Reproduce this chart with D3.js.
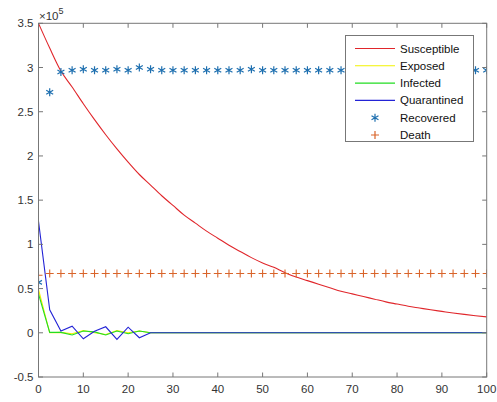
<!DOCTYPE html>
<html>
<head>
<meta charset="utf-8">
<script src="https://cdn.jsdelivr.net/npm/d3@7"></script>
<style>
  body { margin: 0; background: #fff; }
  text { font-family: "Liberation Sans", Arial, sans-serif; }
</style>
</head>
<body>
<svg id="chart" width="497" height="402"></svg>
<script>
// time steps (days), 2.5 apart
var days = d3.range(0, 100.01, 2.5);

// values in units of 1e5
var susceptible = [3.50, 3.22, 2.96, 2.78, 2.59, 2.41, 2.24, 2.08, 1.93, 1.79, 1.67, 1.55, 1.44, 1.33, 1.24, 1.15,
    1.07, 0.99, 0.92, 0.85, 0.79, 0.74, 0.68, 0.63, 0.59, 0.55, 0.51, 0.47, 0.44, 0.41, 0.38, 0.35,
    0.325, 0.30, 0.28, 0.26, 0.242, 0.224, 0.208, 0.193, 0.18];
var exposed = [0.49, 0.0, 0.005, -0.01, 0.025, 0.0, -0.02, 0.025, 0.0, 0.02, 0.0];
var infected = [0.44, 0.005, 0.005, -0.025, 0.02, 0.01, -0.025, 0.02, -0.01, 0.02, 0.0];
var quarantined = [1.26, 0.26, 0.02, 0.075, -0.068, 0.018, 0.068, -0.075, 0.063, -0.056, 0.0];
var recovered = [0.57, 2.72, 2.95, 2.97, 2.98, 2.97, 2.97, 2.98, 2.97, 3.0, 2.98, 2.97, 2.97, 2.97, 2.97, 2.97,
    2.97, 2.97, 2.97, 2.98, 2.97, 2.97, 2.97, 2.97, 2.97, 2.97, 2.97, 2.97, 2.97, 2.97, 2.97, 2.97,
    2.97, 2.97, 2.97, 2.97, 2.97, 2.97, 2.97, 2.97, 2.97];
var death = [0.65, 0.67, 0.67, 0.67, 0.67, 0.67, 0.67, 0.67, 0.67, 0.67, 0.67, 0.67, 0.67, 0.67, 0.67, 0.67,
    0.67, 0.67, 0.67, 0.67, 0.67, 0.67, 0.67, 0.67, 0.67, 0.67, 0.67, 0.67, 0.67, 0.67, 0.67, 0.67,
    0.67, 0.67, 0.67, 0.67, 0.67, 0.67, 0.67, 0.67, 0.67];

var xTicks = [0, 10, 20, 30, 40, 50, 60, 70, 80, 90, 100];
var yTicks = [-0.5, 0, 0.5, 1, 1.5, 2, 2.5, 3, 3.5];

// the small series settle at zero after day 25
function pad(arr) {
    var out = arr.slice();
    while (out.length < days.length) out.push(0);
    return out;
}

var lineSeries = [
    { name: 'Susceptible', values: susceptible, color: '#e0262b', smooth: true },
    { name: 'Exposed', values: pad(exposed), color: '#f2f200' },
    { name: 'Infected', values: pad(infected), color: '#22dd22' },
    { name: 'Quarantined', values: pad(quarantined), color: '#2323d6' }
];

var plotLeft = 38.5, plotRight = 486.7, plotTop = 23.3, plotBottom = 377;
var axisColor = '#777';
var textColor = '#333';

var svg = d3.select('#chart');
var x = d3.scaleLinear().domain([0, 100]).range([plotLeft, plotRight]);
var y = d3.scaleLinear().domain([-0.5, 3.5]).range([plotBottom, plotTop]);

svg.append('defs').append('clipPath').attr('id', 'clip')
    .append('rect').attr('x', plotLeft).attr('y', plotTop)
    .attr('width', plotRight - plotLeft).attr('height', plotBottom - plotTop);

var plot = svg.append('g').attr('clip-path', 'url(#clip)');

lineSeries.forEach(function(s) {
    var line = d3.line()
        .x(function(d, i) { return x(days[i]); })
        .y(function(d) { return y(d); })
        .curve(s.smooth ? d3.curveMonotoneX : d3.curveLinear);
    plot.append('path')
        .attr('d', line(s.values))
        .attr('fill', 'none')
        .attr('stroke', s.color)
        .attr('stroke-width', 1.1);
});

function starPath(r) {
    var d = 'M0,' + (-r) + 'V' + r;
    var a = r * 0.87, b = r * 0.5;
    d += 'M' + (-a) + ',' + (-b) + 'L' + a + ',' + b;
    d += 'M' + (-a) + ',' + b + 'L' + a + ',' + (-b);
    return d;
}
function plusPath(r) {
    return 'M' + (-r) + ',0H' + r + 'M0,' + (-r) + 'V' + r;
}

var starColor = '#1f70b0';
var plusColor = '#d9642a';

plot.selectAll('.rec').data(recovered).enter().append('path')
    .attr('class', 'rec')
    .attr('d', starPath(4))
    .attr('transform', function(d, i) { return 'translate(' + x(days[i]) + ',' + y(d) + ')'; })
    .attr('stroke', starColor)
    .attr('stroke-width', 1.2)
    .attr('fill', 'none');

plot.selectAll('.dth').data(death).enter().append('path')
    .attr('class', 'dth')
    .attr('d', plusPath(4))
    .attr('transform', function(d, i) { return 'translate(' + x(days[i]) + ',' + y(d) + ')'; })
    .attr('stroke', plusColor)
    .attr('stroke-width', 1.1)
    .attr('fill', 'none');

// axes box with inward ticks on all four sides
var tickLen = 4.5;
var axes = svg.append('g');
axes.append('rect')
    .attr('x', plotLeft).attr('y', plotTop)
    .attr('width', plotRight - plotLeft).attr('height', plotBottom - plotTop)
    .attr('fill', 'none').attr('stroke', axisColor).attr('stroke-width', 1);

xTicks.forEach(function(t) {
    var px = x(t);
    axes.append('line').attr('x1', px).attr('x2', px).attr('y1', plotBottom).attr('y2', plotBottom - tickLen).attr('stroke', axisColor);
    axes.append('line').attr('x1', px).attr('x2', px).attr('y1', plotTop).attr('y2', plotTop + tickLen).attr('stroke', axisColor);
    axes.append('text').attr('x', px).attr('y', plotBottom + 16)
        .attr('text-anchor', 'middle').attr('font-size', 11.5).attr('fill', textColor).text(t);
});

yTicks.forEach(function(t) {
    var py = y(t);
    axes.append('line').attr('x1', plotLeft).attr('x2', plotLeft + tickLen).attr('y1', py).attr('y2', py).attr('stroke', axisColor);
    axes.append('line').attr('x1', plotRight).attr('x2', plotRight - tickLen).attr('y1', py).attr('y2', py).attr('stroke', axisColor);
    axes.append('text').attr('x', plotLeft - 5).attr('y', py + 4)
        .attr('text-anchor', 'end').attr('font-size', 11.5).attr('fill', textColor).text(t);
});

// exponent label
var expo = axes.append('text').attr('x', 39).attr('y', 20).attr('font-size', 11.5).attr('fill', textColor);
expo.append('tspan').text('\u00d710');
expo.append('tspan').attr('dy', -6).attr('font-size', 9).text('5');

// legend
var lg = svg.append('g');
lg.append('rect').attr('x', 345.5).attr('y', 35.5).attr('width', 128).attr('height', 106)
    .attr('fill', '#fff').attr('stroke', axisColor);

var legendItems = lineSeries.map(function(s) { return { name: s.name, color: s.color, kind: 'line' }; })
    .concat([{ name: 'Recovered', color: starColor, kind: 'star' }, { name: 'Death', color: plusColor, kind: 'plus' }]);

legendItems.forEach(function(it, i) {
    var ly = 48.5 + i * 17.3;
    if (it.kind == 'line') {
        lg.append('line').attr('x1', 355).attr('x2', 395).attr('y1', ly).attr('y2', ly)
            .attr('stroke', it.color).attr('stroke-width', 1.1);
    } else {
        lg.append('path').attr('d', it.kind == 'star' ? starPath(4) : plusPath(4))
            .attr('transform', 'translate(375,' + ly + ')')
            .attr('stroke', it.color).attr('stroke-width', 1.2).attr('fill', 'none');
    }
    lg.append('text').attr('x', 400).attr('y', ly + 4).attr('font-size', 11.5).attr('fill', '#111').text(it.name);
});
</script>
</body>
</html>
